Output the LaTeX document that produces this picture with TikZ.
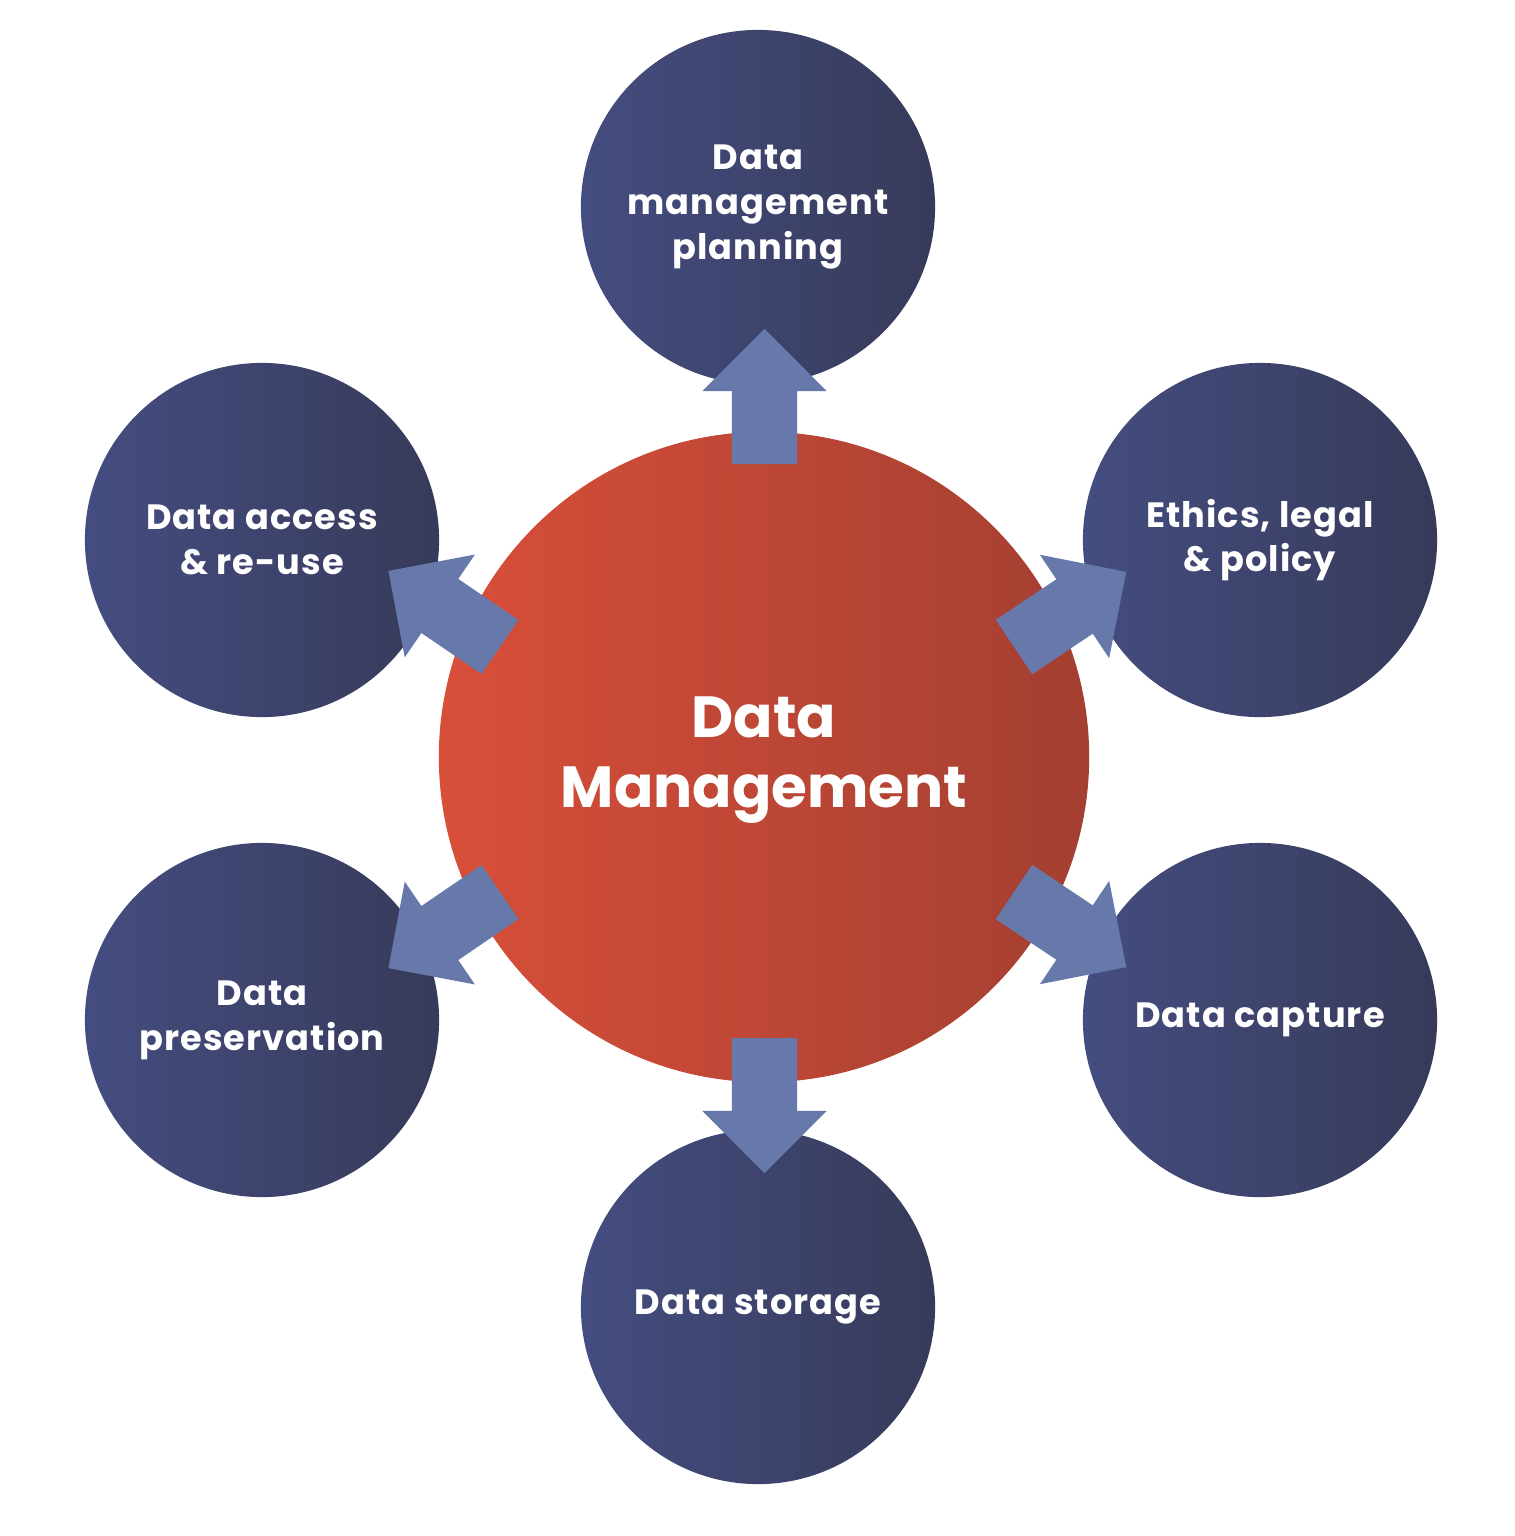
\documentclass[tikz,border=0pt]{standalone}
\usepackage{fontspec}
\setmainfont{Poppins}
\newfontfamily\topicfont{Poppins}[LetterSpace=3]
\usepackage{tikz}
\usetikzlibrary{shapes.arrows,positioning,calc}
\definecolor{cRedL}{HTML}{D84F39}
\definecolor{cRedR}{HTML}{A33F31}
\definecolor{cBlueL}{HTML}{444D80}
\definecolor{cBlueR}{HTML}{373A59}
\definecolor{cArrow}{HTML}{6679AA}
\tikzset{
  hub/.style    ={circle, left color=cRedL, right color=cRedR, draw=none,
                  minimum size=6.5cm, inner sep=0pt, align=center, text=white,
                  font=\bfseries\fontsize{16.5}{20}\selectfont},
  topic/.style  ={circle, left color=cBlueL, right color=cBlueR, draw=none,
                  minimum size=3.54cm, inner sep=0pt, align=center, text=white,
                  font=\topicfont\bfseries\fontsize{10}{12.7}\selectfont},
  blk/.style    ={single arrow, fill=cArrow, draw=none, anchor=tail,
                  minimum height=1.35cm, inner xsep=0pt, inner ysep=0.32cm,
                  outer sep=0pt, single arrow head extend=0.295cm,
                  single arrow head indent=0pt},
}
\begin{document}
\begin{tikzpicture}[x=0.01cm,y=-0.01cm]
  \useasboundingbox (0,0) rectangle (1514,1536);
  \node[hub] (dm) at (764,757) {\rule{0pt}{0.8em}Data\\Management};
  \node[topic] (plan) at (758,207) {Data\\management\\planning};
  \node[topic] (eth) at (1260,540) {Ethics, legal\\\& policy};
  \node[topic] (cap) at (1260,1020) {Data capture};
  \node[topic] (sto) at (758,1307) {Data storage};
  \node[topic] (pres) at (262,1020) {Data\\preservation};
  \node[topic] (acc) at (262,540) {Data access\\\& re-use};
  % block arrows out of the hub
  \node[blk,rotate=90] (toplan) at (764.5,464) {};
  \node[blk,rotate=33.8] (toeth) at (1014,647) {};
  \node[blk,rotate=-33.8] (tocap) at (1014,892) {};
  \node[blk,rotate=-90] (tosto) at (764.5,1038) {};
  \node[blk,rotate=-145.7] (topres) at (500,892) {};
  \node[blk,rotate=145.7] (toacc) at (500,647) {};
\end{tikzpicture}
\end{document}
